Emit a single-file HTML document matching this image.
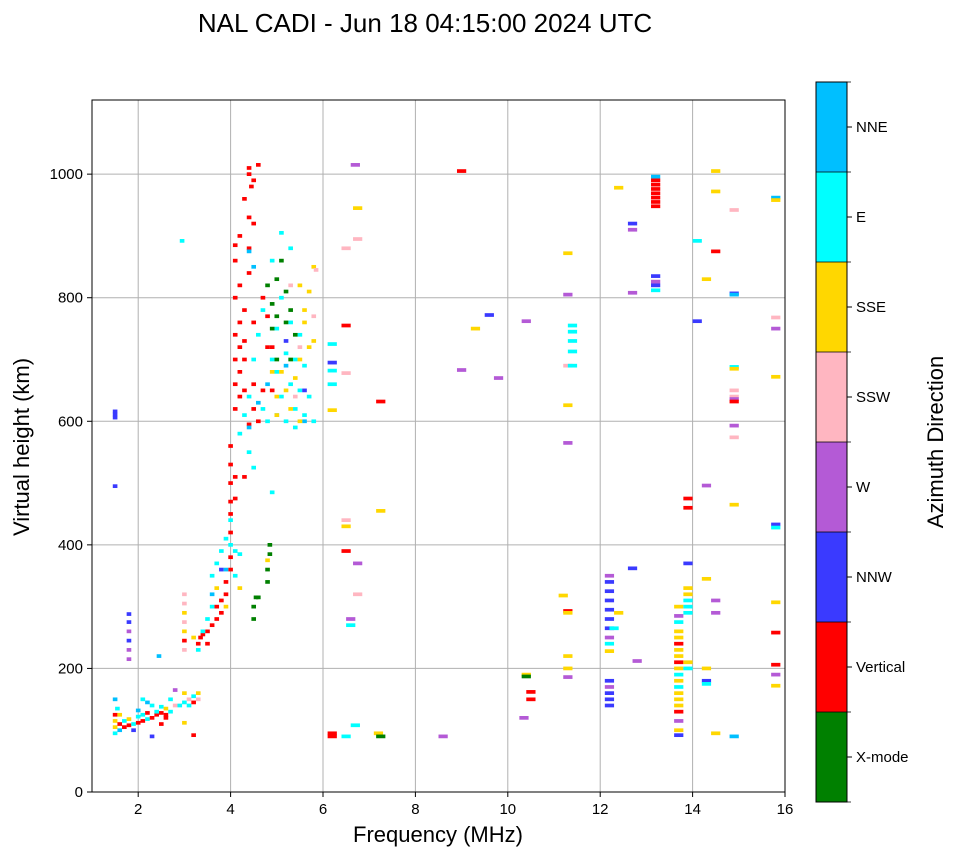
<!DOCTYPE html>
<html><head><meta charset="utf-8"><style>
html,body{margin:0;padding:0;background:#fff;}
svg{display:block;font-family:"Liberation Sans","DejaVu Sans",sans-serif;}
</style></head><body>
<svg id="fig" width="958" height="857" viewBox="0 0 958 857" xmlns="http://www.w3.org/2000/svg">
<text x="425" y="32" font-size="26" text-anchor="middle">NAL CADI - Jun 18 04:15:00 2024 UTC</text>
<g id="grid"></g>
<g id="marks"></g>
<rect x="92" y="100" width="693" height="692" fill="none" stroke="#000" stroke-width="1"/>
<g id="axes"></g>
<text x="438" y="842" font-size="22" text-anchor="middle">Frequency (MHz)</text>
<text transform="translate(29,447) rotate(-90)" font-size="22" text-anchor="middle">Virtual height (km)</text>
<g id="cbar"></g>
<text transform="translate(943,442) rotate(-90)" font-size="22" text-anchor="middle">Azimuth Direction</text>
</svg>
<script>
const directions = ["X-mode","Vertical","NNW","W","SSW","SSE","E","NNE"];
const dirColors = ["#008000","#ff0000","#3a3aff","#b45ad6","#ffb6c1","#ffd700","#00ffff","#00bfff"];
const xTicks = [2,4,6,8,10,12,14,16];
const yTicks = [0,200,400,600,800,1000];
// echoes: [frequency MHz, virtual height km, direction index]
const echoes = [
[1.5,95,6],[1.5,105,5],[1.5,115,5],[1.5,125,1],[1.55,135,6],[1.6,100,7],[1.6,110,1],[1.7,105,1],[1.7,115,6],[1.8,108,1],[1.8,118,5],[1.9,110,6],[1.9,100,2],[2.0,112,1],[2.0,122,6],[2.1,115,1],[2.1,125,6],[2.2,118,6],[2.2,128,1],[2.3,120,1],[2.3,140,6],[2.4,125,1],[2.4,130,6],[2.5,128,1],[2.5,138,6],[2.6,125,1],[2.6,135,5],[2.7,130,6],[2.7,150,6],[2.8,140,4],[2.8,165,3],[2.9,140,6],[3.0,145,6],[3.0,160,5],[3.1,150,4],[3.1,140,6],[3.2,155,6],[3.2,145,1],[3.3,150,4],[3.3,160,5],[2.2,145,7],[2.1,150,6],[2.3,90,2],[3.2,92,1],[3.0,112,5],[1.5,150,7],[2.5,110,1],[2.45,220,7],[2.6,120,1],[2.0,132,7],[1.6,125,5],
[1.8,215,3],[1.8,230,3],[1.8,245,2],[1.8,260,3],[1.8,275,2],[1.8,288,2],
[1.5,606,2],[1.5,611,2],[1.5,616,2],[1.5,495,2],
[3.0,230,4],[3.0,245,1],[3.0,260,5],[3.0,275,4],[3.0,290,5],[3.0,305,4],[3.0,320,4],[2.95,892,6],
[3.3,240,1],[3.35,250,1],[3.4,255,1],[3.5,260,1],[3.5,240,1],[3.6,270,1],[3.7,280,1],[3.7,300,1],[3.8,290,1],[3.8,310,1],[3.9,320,1],[3.9,340,1],[4.0,360,1],[4.0,380,1],[4.0,420,1],[4.0,450,1],[4.0,470,1],[4.0,500,1],[4.0,530,1],[4.1,475,1],[4.1,510,1],[4.0,560,1],
[3.4,260,6],[3.5,280,6],[3.6,300,6],[3.6,350,6],[3.7,370,6],[3.7,330,5],[3.8,360,2],[3.8,390,6],[3.9,410,6],[4.0,400,6],[4.1,390,6],[4.2,385,6],[4.1,350,6],[4.2,330,5],[3.9,300,5],[4.0,440,6],[3.3,230,6],[3.2,250,5],[3.9,360,7],[3.6,320,7],
[4.5,280,0],[4.5,300,0],[4.55,315,0],[4.6,315,0],[4.8,340,0],[4.8,360,0],[4.85,385,0],[4.85,400,0],[4.8,375,5],[4.3,510,1],[4.4,550,6],[4.5,525,6],[4.2,580,6],[4.9,485,6],
[4.1,620,1],[4.1,660,1],[4.1,700,1],[4.1,740,1],[4.1,800,1],[4.1,860,1],[4.1,885,1],[4.2,640,1],[4.2,680,1],[4.2,720,1],[4.2,760,1],[4.2,820,1],[4.2,900,1],[4.3,700,1],[4.3,650,1],[4.3,960,1],[4.4,1000,1],[4.4,1010,1],[4.4,930,1],[4.45,980,1],[4.5,620,1],[4.5,660,1],[4.5,760,1],[4.5,920,1],[4.6,1015,1],[4.5,990,1],[4.4,880,1],[4.6,600,1],[4.7,650,1],[4.8,720,1],[4.9,650,1],[4.4,595,1],[4.3,780,1],[4.4,840,1],[4.3,730,1],
[4.3,610,6],[4.4,640,6],[4.5,700,6],[4.6,740,6],[4.7,780,6],[4.7,620,6],[4.8,600,6],[4.9,700,6],[5.0,750,6],[5.0,680,6],[5.1,640,6],[5.1,800,6],[5.2,710,6],[5.2,600,6],[5.3,660,6],[5.3,760,6],[5.4,620,6],[5.4,700,6],[5.5,650,6],[5.5,740,6],[5.6,610,6],[5.6,690,6],[5.7,640,6],[5.8,600,6],[5.1,905,6],[4.9,860,6],[5.3,880,6],[4.4,590,7],[4.6,630,7],[4.8,660,7],[5.0,610,7],[5.2,690,7],[5.6,600,7],[4.5,850,7],[4.4,875,7],
[4.8,820,0],[4.9,790,0],[5.0,770,0],[5.0,830,0],[5.1,860,0],[5.2,810,0],[5.2,760,0],[5.3,780,0],[5.3,700,0],[5.4,740,0],[5.0,700,0],[4.9,750,0],[4.8,770,1],[4.7,800,1],[4.9,720,1],
[5.0,640,5],[5.1,680,5],[5.2,650,5],[5.3,620,5],[5.4,670,5],[5.5,700,5],[5.6,760,5],[5.7,720,5],[5.8,730,5],[5.5,600,5],[5.6,780,5],[5.8,850,5],[5.85,845,4],[5.0,610,5],[4.9,680,5],[5.3,820,4],[5.5,820,5],[5.2,730,2],[5.4,590,6],[5.6,650,2],[5.8,770,4],[5.7,810,5],[5.4,640,4],[5.5,720,4],
[6.2,695,2],[6.2,682,6],[6.2,660,6],[6.2,618,5],[6.2,725,6],[6.5,755,1],[6.5,678,4],[6.5,880,4],[6.7,1015,3],[6.75,945,5],[6.75,895,4],[6.5,440,4],[6.5,430,5],[6.5,390,1],[6.6,280,3],[6.6,270,6],[6.75,370,3],[6.75,320,4],[6.7,108,6],[6.2,95,1],[6.2,90,1],[6.5,90,6],[7.25,632,1],[7.25,455,5],[7.2,95,5],[7.25,90,0],[8.6,90,3],[9.0,1005,1],[9.0,683,3],[9.3,750,5],[9.6,772,2],[9.8,670,3],[10.4,762,3],[10.4,190,5],[10.4,187,0],[10.5,162,1],[10.5,150,1],[10.35,120,3],
[11.2,318,5],[11.3,293,1],[11.3,290,5],[11.3,220,5],[11.3,200,5],[11.3,186,3],[11.3,872,5],[11.3,805,3],[11.3,690,4],[11.3,626,5],[11.3,565,3],[11.4,755,6],[11.4,745,6],[11.4,730,6],[11.4,713,6],[11.4,690,6],
[12.2,350,3],[12.2,340,2],[12.2,325,2],[12.2,310,2],[12.2,295,2],[12.2,280,2],[12.2,265,2],[12.2,250,3],[12.2,240,6],[12.2,228,5],[12.2,180,2],[12.2,170,3],[12.2,160,2],[12.2,150,2],[12.2,140,2],[12.3,265,6],[12.4,290,5],[12.7,362,2],[12.8,212,3],[12.4,978,5],[12.7,920,2],[12.7,910,3],[12.7,808,3],
[13.2,948,1],[13.2,955,1],[13.2,962,1],[13.2,969,1],[13.2,976,1],[13.2,983,1],[13.2,990,1],[13.2,996,7],[13.2,835,2],[13.2,826,3],[13.2,820,2],[13.2,812,6],
[13.7,300,5],[13.7,285,3],[13.7,275,6],[13.7,260,5],[13.7,250,5],[13.7,240,1],[13.7,230,5],[13.7,220,5],[13.7,210,1],[13.7,200,5],[13.7,190,6],[13.7,180,5],[13.7,170,6],[13.7,160,5],[13.7,150,5],[13.7,140,5],[13.7,130,1],[13.7,115,3],[13.7,100,5],[13.7,92,2],
[13.9,330,5],[13.9,320,5],[13.9,310,6],[13.9,300,6],[13.9,290,6],[13.9,370,2],[13.9,475,1],[13.9,460,1],[13.9,210,5],[13.9,200,6],[14.1,762,2],[14.1,892,6],[14.3,830,5],[14.3,496,3],[14.3,345,5],[14.3,200,5],[14.3,180,2],[14.3,175,6],[14.5,1005,5],[14.5,972,5],[14.5,875,1],[14.5,310,3],[14.5,290,3],[14.5,95,5],
[14.9,942,4],[14.9,807,2],[14.9,805,7],[14.9,688,6],[14.9,685,5],[14.9,650,4],[14.9,640,4],[14.9,636,3],[14.9,632,1],[14.9,593,3],[14.9,574,4],[14.9,465,5],[14.9,90,7],
[15.8,962,7],[15.8,958,5],[15.8,768,4],[15.8,750,3],[15.8,672,5],[15.8,433,2],[15.8,428,6],[15.8,307,5],[15.8,258,1],[15.8,206,1],[15.8,190,3],[15.8,172,5]
];
const NS="http://www.w3.org/2000/svg";
const X0=92,X1=785,Y0=792,Y1=100,FMIN=1,FMAX=16,HMIN=0,HMAX=1120;
function xs(f){return X0+(f-FMIN)/(FMAX-FMIN)*(X1-X0);}
function ys(h){return Y0-(h-HMIN)/(HMAX-HMIN)*(Y0-Y1);}
function mk(tag,attrs,parent){const e=document.createElementNS(NS,tag);for(const k in attrs)e.setAttribute(k,attrs[k]);parent.appendChild(e);return e;}
const grid=document.getElementById('grid'),axes=document.getElementById('axes'),marks=document.getElementById('marks'),cbar=document.getElementById('cbar');
xTicks.forEach(t=>{
  const x=xs(t);
  const g=mk('line',{x1:x,x2:x,y1:Y1,y2:Y0,stroke:'#b0b0b0','stroke-width':1},grid);
  
  
  const tk=mk('line',{x1:x,x2:x,y1:Y0,y2:Y0+5,stroke:'#000'},axes);
  
  
  const tx=mk('text',{x:x,y:Y0+22,'font-size':15,'text-anchor':'middle'},axes);
  tx.textContent=t;
  
  
});
yTicks.forEach(t=>{
  const y=ys(t);
  const g=mk('line',{x1:X0,x2:X1,y1:y,y2:y,stroke:'#b0b0b0','stroke-width':1},grid);
  
  
  const tk=mk('line',{x1:X0-5,x2:X0,y1:y,y2:y,stroke:'#000'},axes);
  
  
  const tx=mk('text',{x:X0-9,y:y+5,'font-size':15,'text-anchor':'end'},axes);
  tx.textContent=t;
  
  
});
echoes.forEach(e=>{
  const f=e[0],h=e[1],d=e[2];
  const w=f<6?0.1:0.2;
  const x=xs(f-w/2),x2=xs(f+w/2);
  const r=mk('rect',{x:x,y:ys(h+3),width:x2-x,height:ys(h-3)-ys(h+3),fill:dirColors[d]},marks);
  
  
});
const CX=816,CW=31,CT=82,CB=802,seg=(CB-CT)/directions.length;
directions.forEach((name,i)=>{
  const y=CB-(i+1)*seg;
  const r=mk('rect',{x:CX,y:y,width:CW,height:seg,fill:dirColors[i]},cbar);
  
  
  const tk=mk('line',{x1:CX+CW,x2:CX+CW+5,y1:y+seg/2,y2:y+seg/2,stroke:'#000'},cbar);
  
  
  const tx=mk('text',{x:CX+CW+9,y:y+seg/2+5,'font-size':15},cbar);
  tx.textContent=name;
  
  
});
for(let i=0;i<=directions.length;i++){
  const y=CB-i*seg;
  const b=mk('line',{x1:CX,x2:CX+CW+4,y1:y,y2:y,stroke:'#000','stroke-width':0.8},cbar);
  
  
}
const fr=mk('rect',{x:CX,y:CT,width:CW,height:CB-CT,fill:'none',stroke:'#000'},cbar);


</script>
</body></html>
